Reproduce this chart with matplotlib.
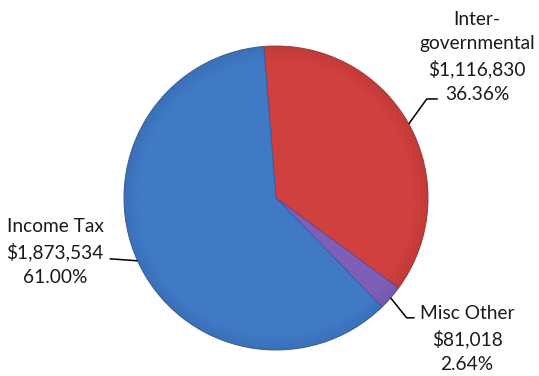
import numpy as np
import matplotlib.pyplot as plt

# === DATA ===
labels = ['Inter-\ngovernmental', 'Misc Other', 'Income Tax']
amounts = [1116830, 81018, 1873534]
percents = [36.36, 2.64, 61.00]
colors = ['#D0403E', '#7E5FB8', '#4079C6']
edge_colors = ['#a83330', '#5e4590', '#2f5d9c']

# === FIGURE ===
W, H = 539, 376
fig = plt.figure(figsize=(W / 100, H / 100), dpi=100)
ax = fig.add_axes([0, 0, 1, 1])
ax.set_aspect('equal')

# pie centre / radius in pixels -> data limits (1 unit = radius)
cx, cy, r = 276, 198, 152

start = 94.6
wedges, _ = ax.pie(percents, colors=colors, startangle=start, counterclock=False,
                   radius=1, center=(0, 0), frame=True,
                   wedgeprops=dict(linewidth=0.6))
for w, ec in zip(wedges, edge_colors):
    w.set_edgecolor(ec)
ax.set_xlim(-cx / r, (W - cx) / r)
ax.set_ylim(-(H - cy) / r, cy / r)
ax.axis('off')

# soft darker rim for the bevelled look
ring_r = np.linspace(0.9, 1.0, 10)
for i, rr in enumerate(ring_r):
    circ = plt.Circle((0, 0), rr, fill=False, lw=1.2, color='black',
                      alpha=0.008 * i, zorder=3)
    ax.add_patch(circ)


def edge_point(w):
    ang = np.deg2rad((w.theta1 + w.theta2) / 2)
    return np.cos(ang), np.sin(ang)


px = 1 / r
font = dict(family=['Lato', 'DejaVu Sans'], fontsize=13.8, color='#1a1a1a',
            linespacing=1.5)

# leader lines: (dx, dy) in pixels relative to the wedge edge point
paths = [
    [(0, 0), (18, 25), (29, 25)],
    [(0, 0), (16, -20), (24, -20)],
    [(0, 0), (-28, 2)],
]
text_pos = [(477, 57), (467, 339), (55, 252)]

for w, lab, amt, pct, path, tp in zip(wedges, labels, amounts, percents, paths, text_pos):
    ex, ey = edge_point(w)
    xs = [ex + dx * px for dx, dy in path]
    ys = [ey + dy * px for dx, dy in path]
    ax.plot(xs, ys, color='black', lw=1.1, zorder=4, solid_capstyle='butt')
    txt = f'{lab}\n${amt:,}\n{pct:.2f}%'
    ax.text((tp[0] - cx) / r, (cy - tp[1]) / r, txt, ha='center', va='center', **font)

fig.savefig('out.png', dpi=100)
